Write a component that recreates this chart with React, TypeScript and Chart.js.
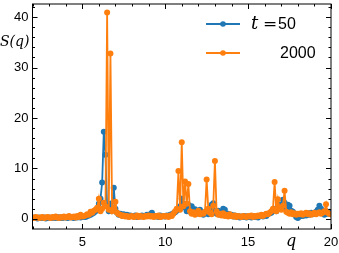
import React, { useEffect, useRef } from "react";
import { Chart, registerables } from "chart.js";

Chart.register(...registerables);

const qValues = [
  2.0, 2.1, 2.2, 2.3, 2.4, 2.5, 2.6, 2.7, 2.8, 2.9,
  3.0, 3.1, 3.2, 3.3, 3.4, 3.5, 3.6, 3.7, 3.8, 3.9,
  4.0, 4.1, 4.2, 4.3, 4.4, 4.5, 4.6, 4.7, 4.8, 4.9,
  5.0, 5.1, 5.2, 5.3, 5.4, 5.5, 5.6, 5.7, 5.8, 5.9,
  6.0, 6.1, 6.2, 6.3, 6.4, 6.5, 6.6, 6.7, 6.8, 6.9,
  7.0, 7.1, 7.2, 7.3, 7.4, 7.5, 7.6, 7.7, 7.8, 7.9,
  8.0, 8.1, 8.2, 8.3, 8.4, 8.5, 8.6, 8.7, 8.8, 8.9,
  9.0, 9.1, 9.2, 9.3, 9.4, 9.5, 9.6, 9.7, 9.8, 9.9,
  10.0, 10.1, 10.2, 10.3, 10.4, 10.5, 10.6, 10.7, 10.8, 10.9,
  11.0, 11.1, 11.2, 11.3, 11.4, 11.5, 11.6, 11.7, 11.8, 11.9,
  12.0, 12.1, 12.2, 12.3, 12.4, 12.5, 12.6, 12.7, 12.8, 12.9,
  13.0, 13.1, 13.2, 13.3, 13.4, 13.5, 13.6, 13.7, 13.8, 13.9,
  14.0, 14.1, 14.2, 14.3, 14.4, 14.5, 14.6, 14.7, 14.8, 14.9,
  15.0, 15.1, 15.2, 15.3, 15.4, 15.5, 15.6, 15.7, 15.8, 15.9,
  16.0, 16.1, 16.2, 16.3, 16.4, 16.5, 16.6, 16.7, 16.8, 16.9,
  17.0, 17.1, 17.2, 17.3, 17.4, 17.5, 17.6, 17.7, 17.8, 17.9,
  18.0, 18.1, 18.2, 18.3, 18.4, 18.5, 18.6, 18.7, 18.8, 18.9,
  19.0, 19.1, 19.2, 19.3, 19.4, 19.5, 19.6, 19.7, 19.8, 19.9,
  20.0,
];

const s50 = [
  0.2, 0.3, 0.2, 0.1, 0.3, 0.2, 0.2, 0.3, 0.1, 0.2,
  0.3, 0.2, 0.2, 0.3, 0.2, 0.4, 0.2, 0.3, 0.2, 0.3,
  0.4, 0.2, 0.3, 0.4, 0.3, 0.2, 0.4, 0.3, 0.5, 0.3,
  0.4, 0.5, 0.4, 0.6, 0.7, 0.8, 1.0, 1.2, 1.5, 2.0,
  3.0, 4.0, 7.2, 17.3, 12.7, 2.5, 1.5, 3.0, 1.8, 6.2,
  2.0, 1.2, 0.8, 1.0, 0.7, 0.9, 0.6, 0.8, 0.5, 0.7,
  0.6, 0.5, 0.7, 0.4, 0.6, 0.5, 0.7, 0.5, 0.6, 0.8,
  0.6, 0.9, 1.2, 0.7, 0.5, 0.6, 0.4, 0.7, 0.5, 0.6,
  0.5, 0.7, 0.6, 0.8, 0.9, 1.1, 1.3, 1.6, 2.0, 2.5,
  4.0, 3.0, 2.2, 1.5, 2.8, 1.4, 2.5, 1.5, 1.9, 1.0,
  1.4, 1.8, 1.0, 0.8, 1.2, 1.5, 0.9, 1.6, 2.8, 3.1,
  1.5, 1.0, 1.6, 0.8, 1.4, 2.0, 1.8, 0.9, 1.0, 0.6,
  0.8, 0.5, 0.7, 0.4, 0.6, 0.3, 0.5, 0.4, 0.6, 0.3,
  0.5, 0.4, 0.3, 0.6, 0.4, 0.5, 0.3, 0.6, 0.7, 0.5,
  0.8, 0.6, 0.9, 1.1, 1.2, 1.6, 2.0, 1.5, 2.3, 2.8,
  2.5, 3.8, 3.2, 2.0, 2.8, 2.6, 1.6, 1.4, 0.9, 0.4,
  0.2, 0.5, 0.8, 0.6, 1.0, 0.7, 1.1, 0.8, 1.2, 0.9,
  1.1, 1.4, 1.8, 2.6, 2.0, 1.3, 0.8, 1.5, 1.0, 1.4,
  0.9,
];

const s2000 = [
  0.3, 0.2, 0.4, 0.3, 0.2, 0.3, 0.4, 0.2, 0.3, 0.4,
  0.3, 0.2, 0.4, 0.3, 0.5, 0.3, 0.2, 0.4, 0.3, 0.5,
  0.3, 0.4, 0.6, 0.3, 0.4, 0.5, 0.3, 0.6, 0.4, 0.8,
  0.5, 0.6, 0.7, 0.9, 0.8, 1.4, 1.2, 1.6, 1.8, 2.2,
  4.0, 1.5, 2.0, 3.2, 2.5, 40.9, 1.8, 32.8, 1.5, 2.2,
  3.4, 1.2, 0.9, 0.8, 0.6, 0.7, 0.5, 0.6, 0.4, 0.5,
  0.6, 0.4, 0.5, 0.7, 0.4, 0.6, 0.5, 0.4, 0.6, 0.5,
  0.7, 0.5, 0.6, 0.4, 0.6, 0.5, 0.7, 0.4, 0.5, 0.6,
  0.5, 0.6, 0.4, 0.7, 0.6, 1.0, 1.5, 2.0, 9.5, 1.8,
  15.2, 2.5, 7.4, 3.0, 6.9, 1.5, 1.0, 1.3, 0.8, 1.2,
  1.6, 0.9, 1.1, 1.0, 1.4, 7.8, 2.0, 1.2, 0.9, 2.6,
  11.5, 1.5, 0.8, 1.0, 0.7, 1.1, 0.6, 0.8, 0.5, 0.9,
  0.6, 0.5, 0.7, 0.4, 0.6, 0.5, 0.4, 0.6, 0.5, 0.4,
  0.6, 0.5, 0.7, 0.4, 0.6, 0.5, 0.7, 0.6, 0.8, 0.6,
  0.8, 1.0, 0.9, 1.2, 1.5, 2.0, 7.3, 1.5, 3.9, 2.2,
  1.8, 2.6, 5.6, 1.4, 1.2, 1.0, 1.3, 0.9, 1.1, 0.8,
  1.0, 0.9, 1.1, 0.8, 1.0, 1.2, 0.9, 1.1, 0.8, 1.0,
  1.2, 0.9, 1.1, 1.3, 1.0, 1.2, 1.5, 2.9, 1.2, 1.0,
  0.9,
];

const xMajorTicks = [5, 10, 15, 20];
const yMajorTicks = [0, 10, 20, 30, 40];
const seriesLabels = ["50", "2000"];
const seriesColors = ["#1f77b4", "#ff7f0e"];

const decorPlugin = {
  id: "decor",
  afterDraw(chart: any) {
    const ctx = chart.ctx;
    const ca = chart.chartArea;
    const xs = chart.scales.x;
    const ys = chart.scales.y;
    ctx.save();
    ctx.strokeStyle = "#000";
    ctx.lineWidth = 1;
    ctx.strokeRect(ca.left, ca.top, ca.right - ca.left, ca.bottom - ca.top);
    for (let v = Math.ceil(xs.min); v <= xs.max; v += 1) {
      const px = Math.round(xs.getPixelForValue(v)) + 0.5;
      const major = xMajorTicks.includes(v);
      const len = major ? 5 : 2.5;
      ctx.beginPath();
      ctx.moveTo(px, ca.bottom);
      ctx.lineTo(px, ca.bottom - len);
      ctx.moveTo(px, ca.top);
      ctx.lineTo(px, ca.top + len);
      ctx.stroke();
    }
    for (let v = 0; v <= ys.max; v += 2) {
      const py = Math.round(ys.getPixelForValue(v)) + 0.5;
      const major = yMajorTicks.includes(v);
      const len = major ? 5 : 2.5;
      ctx.beginPath();
      ctx.moveTo(ca.left, py);
      ctx.lineTo(ca.left + len, py);
      ctx.moveTo(ca.right, py);
      ctx.lineTo(ca.right - len, py);
      ctx.stroke();
    }
    ctx.fillStyle = "#000";
    ctx.font = '13px "Liberation Sans", Arial, sans-serif';
    ctx.textAlign = "center";
    ctx.textBaseline = "top";
    xMajorTicks.forEach((v) => {
      ctx.fillText(String(v), xs.getPixelForValue(v), ca.bottom + 7);
    });
    ctx.textAlign = "right";
    ctx.textBaseline = "middle";
    yMajorTicks.forEach((v) => {
      ctx.fillText(String(v), ca.left - 4, ys.getPixelForValue(v));
    });
    ctx.font = 'italic 14px "DejaVu Serif", serif';
    ctx.textAlign = "left";
    ctx.textBaseline = "middle";
    ctx.fillText("S(q)", 0, 42);
    ctx.font = 'italic 16px "DejaVu Serif", serif';
    ctx.textBaseline = "alphabetic";
    ctx.fillText("q", 286, 246);
    const rows = [24, 53];
    rows.forEach((ry, i) => {
      ctx.strokeStyle = seriesColors[i];
      ctx.lineWidth = 1.8;
      ctx.beginPath();
      ctx.moveTo(206, ry);
      ctx.lineTo(240, ry);
      ctx.stroke();
      ctx.fillStyle = seriesColors[i];
      ctx.beginPath();
      ctx.arc(223, ry, 2.8, 0, Math.PI * 2);
      ctx.fill();
    });
    ctx.fillStyle = "#000";
    ctx.textBaseline = "middle";
    ctx.font = 'italic 18px "DejaVu Serif", serif';
    ctx.fillText("t", 251, 24);
    ctx.font = '17px "DejaVu Serif", serif';
    ctx.fillText("=", 263, 25);
    ctx.font = '16px "Liberation Sans", Arial, sans-serif';
    ctx.fillText(seriesLabels[0], 278, 25);
    ctx.fillText(seriesLabels[1], 280, 54);
    ctx.restore();
  },
};

export default function App() {
  const ref = useRef<HTMLCanvasElement | null>(null);
  useEffect(() => {
    if (!ref.current) return;
    const chart = new Chart(ref.current, {
      type: "line",
      data: {
        datasets: [
          {
            label: seriesLabels[0],
            data: qValues.map((q, i) => ({ x: q, y: s50[i] })),
            borderColor: seriesColors[0],
            backgroundColor: seriesColors[0],
            borderWidth: 1.8,
            pointRadius: 3,
            pointBorderWidth: 0,
            order: 1,
          },
          {
            label: seriesLabels[1],
            data: qValues.map((q, i) => ({ x: q, y: s2000[i] })),
            borderColor: seriesColors[1],
            backgroundColor: seriesColors[1],
            borderWidth: 1.8,
            pointRadius: 3,
            pointBorderWidth: 0,
            order: 0,
          },
        ],
      },
      options: {
        animation: false,
        responsive: false,
        devicePixelRatio: 1,
        layout: { padding: { left: 32.5, top: 4, right: 8, bottom: 24 } },
        plugins: { legend: { display: false }, tooltip: { enabled: false } },
        scales: {
          x: { type: "linear", min: 2, max: 20, display: false },
          y: { type: "linear", min: -2, max: 42.6, display: false },
        },
      },
      plugins: [decorPlugin],
    });
    return () => chart.destroy();
  }, []);
  return (
    <div style={{ position: "absolute", left: 0, top: 0, width: 339, height: 253, background: "#fff" }}>
      <canvas ref={ref} width={339} height={253} />
    </div>
  );
}
